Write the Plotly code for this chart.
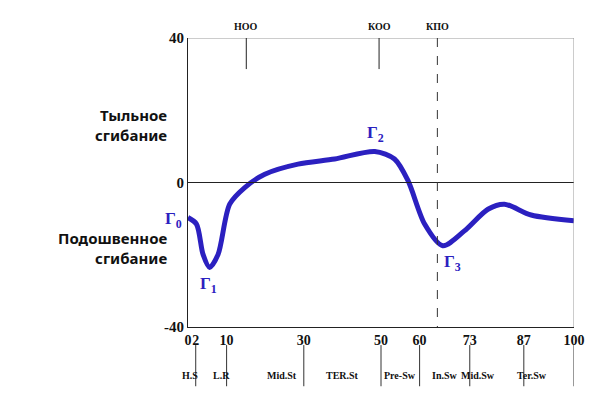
import plotly.graph_objects as go

x_vals = [0, 2.2, 3.9, 5.6, 7.8, 10.8, 14.7, 19.9, 28.5, 38, 48.4, 53.5, 57, 61.3, 66, 71.6, 77.7, 82, 88.9, 100]
y_vals = [-9.7, -11.5, -19.9, -23.5, -19.9, -6, -1.4, 2.3, 5.1, 6.5, 8.6, 6.5, 0.5, -11.5, -17.5, -13.4, -7.4, -6, -9, -10.6]
tick_vals = [0, 2, 10, 30, 50, 60, 73, 87, 100]
phase_bounds = [2, 10, 30, 50, 60, 73, 87, 100]
phase_names = ["H.S", "L.R", "Mid.St", "TER.St", "Pre-Sw", "In.Sw", "Mid.Sw", "Ter.Sw"]
phase_pos = [-2.2, 6, 20, 40, 55, 66.5, 80, 93.5]
events = ["НОО", "КОО", "КПО"]
event_x = [15.1, 49.5, 64.6]
points = ["Γ<sub>1</sub>", "Γ<sub>2</sub>", "Γ<sub>3</sub>"]
points_x = [5.2, 48.7, 68.4]
points_y = [-28.5, 13.3, -22.4]

blue = "#2b20c0"
serif = "Liberation Serif"

fig = go.Figure()
fig.add_trace(go.Scatter(x=x_vals, y=y_vals, mode="lines",
                         line=dict(color=blue, width=5, shape="spline", smoothing=0.8),
                         hoverinfo="skip"))

shapes = []
shapes.append(dict(type="line", xref="x", yref="y", x0=0, x1=100, y0=0, y1=0, line=dict(color="#222", width=1)))
shapes.append(dict(type="line", xref="x", yref="y", x0=0, x1=100, y0=40, y1=40, line=dict(color="#999", width=1)))
shapes.append(dict(type="line", xref="x", yref="y", x0=100, x1=100, y0=-40, y1=40, line=dict(color="#999", width=1)))
for i, ex in enumerate(event_x):
    if i < 2:
        shapes.append(dict(type="line", xref="x", yref="y", x0=ex, x1=ex, y0=40, y1=31.4, line=dict(color="#222", width=1)))
    else:
        shapes.append(dict(type="line", xref="x", yref="y", x0=ex, x1=ex, y0=40, y1=-40, line=dict(color="#333", width=1, dash="dash")))
for b in phase_bounds:
    shapes.append(dict(type="line", xref="x", yref="paper", x0=b, x1=b, y0=-0.0625, y1=-0.205, line=dict(color="#333", width=1)))

ann = []
for n, p in zip(phase_names, phase_pos):
    ann.append(dict(x=p / 100, y=-0.167, xref="paper", yref="paper", text="<b>" + n + "</b>", showarrow=False,
                    font=dict(family=serif, size=10, color="#111"), yanchor="middle"))
for e, ex in zip(events, event_x):
    ann.append(dict(x=ex, y=40, xref="x", yref="y", text="<b>" + e + "</b>", showarrow=False, yshift=12,
                    font=dict(family=serif, size=10, color="#111")))
for t, px, py in zip(points, points_x, points_y):
    ann.append(dict(x=px, y=py, xref="x", yref="y", text="<b>" + t + "</b>", showarrow=False,
                    font=dict(family=serif, size=17, color=blue)))
ann.append(dict(x=-0.01, y=-10.5, xref="paper", yref="y", text="<b>Γ<sub>0</sub></b>", showarrow=False,
                xanchor="right", font=dict(family=serif, size=17, color=blue)))
ann.append(dict(x=-0.05, y=16, xref="paper", yref="y", text="<b>Тыльное<br>сгибание</b>", showarrow=False,
                xanchor="right", align="right", font=dict(family="Noto Sans", size=15, color="#111")))
ann.append(dict(x=-0.05, y=-18, xref="paper", yref="y", text="<b>Подошвенное<br>сгибание</b>", showarrow=False,
                xanchor="right", align="right", font=dict(family="Noto Sans", size=15, color="#111")))

fig.update_layout(
    width=604, height=400, margin=dict(l=180, r=38, t=30, b=81, autoexpand=False),
    plot_bgcolor="white", paper_bgcolor="white", showlegend=False,
    shapes=shapes, annotations=ann,
    xaxis=dict(range=[0, 100], tickvals=tick_vals, ticktext=["<b>%d</b>" % v for v in tick_vals],
               tickangle=0, automargin=False,
               showgrid=False, zeroline=False, showline=True, linecolor="#222", ticks="",
               tickfont=dict(family=serif, size=14, color="#111")),
    yaxis=dict(range=[-40, 40], tickvals=[-40, 0, 40], ticktext=["<b>-40</b>", "<b>0</b>", "<b>40</b>"],
               automargin=False, showgrid=False, zeroline=False,
               showline=True, linecolor="#222", ticks="",
               tickfont=dict(family=serif, size=15, color="#111")),
)
fig.write_html("out.html")
